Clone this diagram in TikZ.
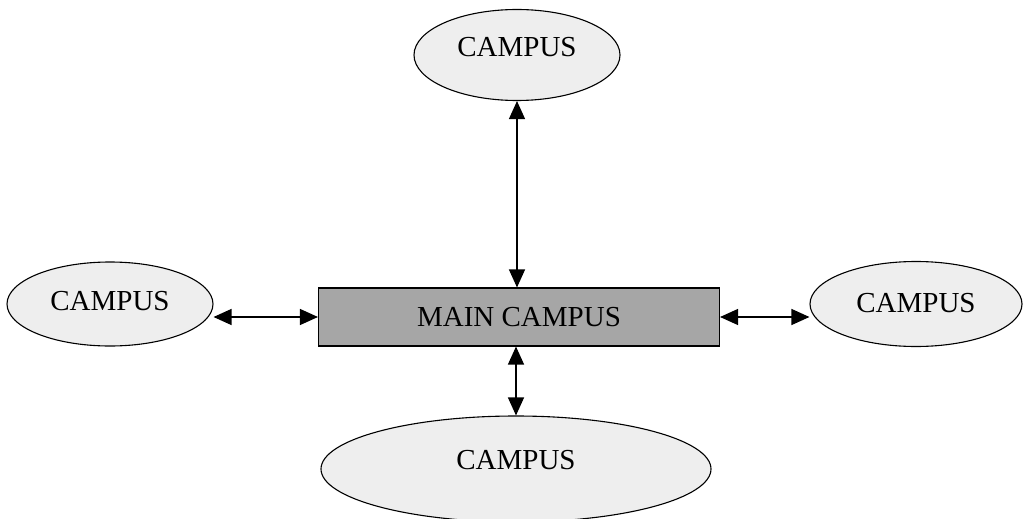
\documentclass[tikz,border=0pt]{standalone}
\usepackage{fontspec}
\setmainfont{Liberation Serif}
\usetikzlibrary{shapes.geometric,arrows.meta}
\definecolor{campusfill}{HTML}{EEEEEE}
\definecolor{mainfill}{HTML}{A6A6A6}
\begin{document}
\begin{tikzpicture}[x=1pt,y=-1pt,
  campus/.style={ellipse,draw,line width=1.1pt,fill=campusfill,inner sep=0pt},
  mainbox/.style={rectangle,draw,line width=1.1pt,fill=mainfill,inner sep=0pt,
    minimum width=401pt,minimum height=58pt,font=\fontsize{29}{31}\selectfont},
  lbl/.style={font=\fontsize{29}{31}\selectfont,inner sep=0pt},
  link/.style={{Triangle[length=18pt,width=16pt]}-{Triangle[length=18pt,width=16pt]},line width=1.3pt}]
\useasboundingbox (0,0) rectangle (1023,519);
% central campus
\node[mainbox] (main) at (519,317) {MAIN CAMPUS};
% satellite campuses
\node[campus,minimum width=206pt,minimum height=91pt,
  label={[lbl,yshift=8pt]center:CAMPUS}] (top) at (517,55) {};
\node[campus,minimum width=206pt,minimum height=84pt,
  label={[lbl,yshift=3pt]center:CAMPUS}] (left) at (110,304) {};
\node[campus,minimum width=212pt,minimum height=85pt,
  label={[lbl,yshift=1pt]center:CAMPUS}] (right) at (916,304) {};
\node[campus,minimum width=390pt,minimum height=106pt,
  label={[lbl,yshift=9pt]center:CAMPUS}] (bottom) at (516,469) {};
% two-way links
\draw[link] (top.south) -- (top.south |- main.north);
\draw[link] (main.south -| bottom.north) -- (bottom.north);
\draw[link] (main.west -| left.east) -- (main.west);
\draw[link] (main.east) -- (main.east -| right.west);
\end{tikzpicture}
\end{document}
